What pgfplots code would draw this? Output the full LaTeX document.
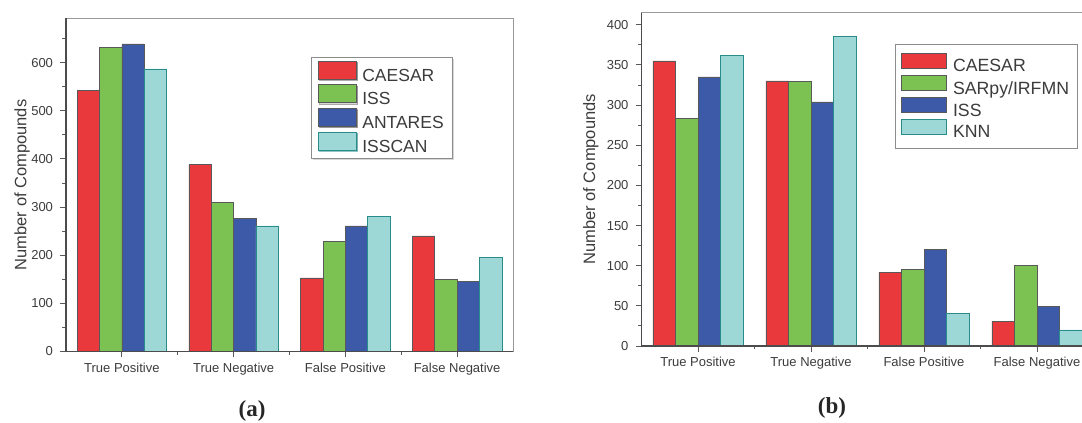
\documentclass[border=0pt]{standalone}
\usepackage{fontspec}
\setmainfont{Liberation Sans}
\newfontfamily\capfont{Liberation Serif}
\usepackage{pgfplots}
\pgfplotsset{compat=1.18}
\usepackage{pgfplotstable}
\usetikzlibrary{shadows}

\definecolor{cRed}{RGB}{233,57,60}
\definecolor{cGreen}{RGB}{124,194,82}
\definecolor{cBlue}{RGB}{61,90,168}
\definecolor{cCyan}{RGB}{157,216,214}
\definecolor{cTeal}{RGB}{40,140,140}
\definecolor{txt}{RGB}{60,60,60}

\pgfplotstableread{
x a b c d
0 542 632 639 587
1 388 310 277 261
2 153 229 261 281
3 240 150 146 195
}\tableA
\pgfplotstableread{
x a b c d
0 355 283 335 362
1 330 329 304 385
2 92 95 120 41
3 31 100 49 20
}\tableB

\pgfplotsset{
 common/.style={
   scale only axis, ybar=0pt, bar width=0.2,
   xmin=-0.5, xmax=3.5, ymin=0,
   xtick={0,1,2,3},
   xticklabels={True Positive, True Negative, False Positive, False Negative},
   minor xtick={0.5,1.5,2.5},
   tick align=outside, xtick pos=bottom, ytick pos=left,
   major tick length=6pt, minor tick length=3.5pt,
   tick style={black!65, line width=0.9pt},
   every tick label/.append style={font=\fontsize{13}{13}\selectfont, text=txt},
   xticklabel style={yshift=-2pt},
   yticklabel style={xshift=-3.5pt},
   /pgf/number format/assume math mode=true,
   axis line style={black!40, line width=0.8pt},
   ylabel={Number of Compounds},
   ylabel style={font=\fontsize{16.5}{16.5}\selectfont, text=txt, anchor=center},
   legend cell align=left,
   after end axis/.code={\draw[black!70,line width=1.1pt] (rel axis cs:0,1) -- (rel axis cs:0,0) -- (rel axis cs:1,0);},
 },
 bR/.style={fill=cRed, draw=black!65, line width=0.6pt},
 bG/.style={fill=cGreen, draw=black!65, line width=0.6pt},
 bB/.style={fill=cBlue, draw=black!65, line width=0.6pt},
 bC/.style={fill=cCyan, draw=cTeal, line width=0.6pt},
 legA/.style={legend image code/.code={\draw[##1] (0pt,-3pt) rectangle (38pt,15pt);}},
 legB/.style={legend image code/.code={\draw[##1] (0pt,-1.5pt) rectangle (45pt,13.5pt);}},
}

\begin{document}
\begin{tikzpicture}
\useasboundingbox (0,0) rectangle (1082pt,423pt);
\clip (0,0) rectangle (1082pt,423pt);

\begin{axis}[common,
  at={(66pt,71.5pt)}, anchor=south west,
  width=447pt, height=333.2pt,
  ymax=692,
  ytick={0,100,...,600}, minor ytick={50,150,...,650},
  ylabel style={at={(axis description cs:-0.098,0.5)}},
  legend style={at={(0.549,0.883)}, anchor=north west, draw=black!45, line width=0.7pt,
    drop shadow={shadow xshift=1.5pt, shadow yshift=-1.5pt, fill=black!30},
    font=\fontsize{17.5}{17.5}\selectfont, text=txt, inner xsep=6pt, inner ysep=3pt,
    nodes={inner ysep=1.5pt, inner xsep=2.5pt}, row sep=0pt,
    /tikz/every odd column/.append style={column sep=3.5pt}},
]
\addplot[bR, legA] table[x=x, y=a] {\tableA};
\addplot[bG, legA] table[x=x, y=b] {\tableA};
\addplot[bB, legA] table[x=x, y=c] {\tableA};
\addplot[bC, legA] table[x=x, y=d] {\tableA};
\legend{CAESAR, ISS, ANTARES, ISSCAN}
\end{axis}

\begin{axis}[common,
  at={(641.5pt,77pt)}, anchor=south west,
  width=452pt, height=333.3pt,
  ymax=415,
  ytick={0,50,...,400}, minor ytick={25,75,...,375},
  ylabel style={at={(axis description cs:-0.112,0.5)}},
  legend style={at={(0.561,0.905)}, anchor=north west, draw=black!45, line width=0.7pt,
    font=\fontsize{17.7}{17.7}\selectfont, text=txt, inner xsep=6pt, inner ysep=8pt,
    nodes={inner ysep=1.2pt, inner xsep=2.5pt}, row sep=0pt,
    /tikz/every odd column/.append style={column sep=3.5pt}},
]
\addplot[bR, legB] table[x=x, y=a] {\tableB};
\addplot[bG, legB] table[x=x, y=b] {\tableB};
\addplot[bB, legB] table[x=x, y=c] {\tableB};
\addplot[bC, legB] table[x=x, y=d] {\tableB};
\legend{CAESAR, SARpy/IRFMN, ISS, KNN}
\end{axis}

\node[font=\capfont\bfseries\fontsize{23}{23}\selectfont, text=black!85] at (252pt,12pt) {(a)};
\node[font=\capfont\bfseries\fontsize{23}{23}\selectfont, text=black!85] at (832pt,15pt) {(b)};
\end{tikzpicture}
\end{document}
